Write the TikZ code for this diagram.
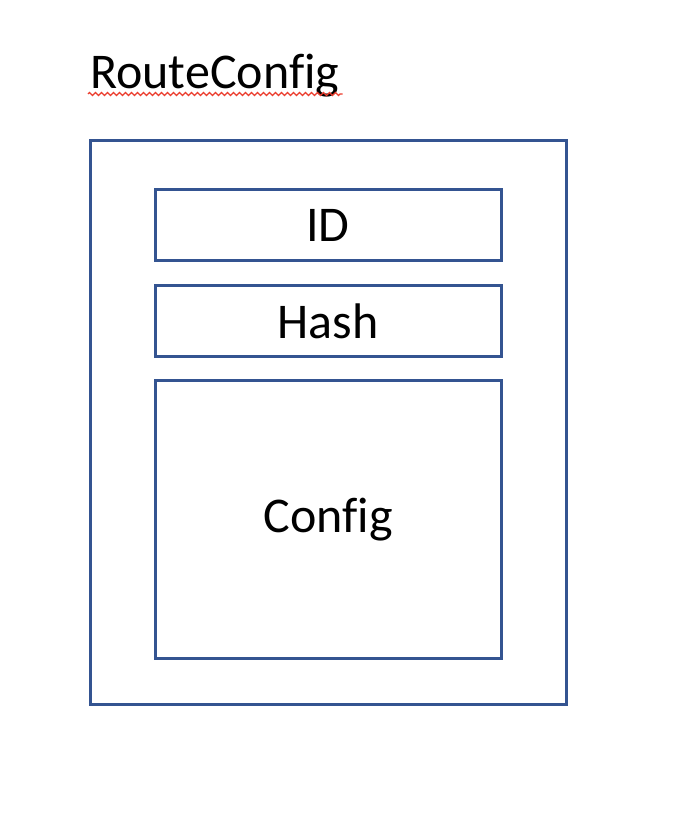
\documentclass[tikz,border=0pt]{standalone}
\usepackage{fontspec}
\setmainfont[Ligatures=NoCommon]{Carlito}
\usepackage{tikz}
\usetikzlibrary{positioning, decorations.pathmorphing}

\definecolor{boxblue}{RGB}{52,84,145}
\definecolor{spellred}{RGB}{235,60,45}

\begin{document}
\begin{tikzpicture}[x=1pt, y=1pt, node distance=25pt,
  field box/.style={rectangle, draw=boxblue, line width=3pt, outer sep=0pt,
    minimum width=346pt, font=\fontsize{50}{56}\selectfont}]

\useasboundingbox (0,0) rectangle (684,834);

% outer frame
\node[rectangle, draw=boxblue, line width=3pt, outer sep=0pt,
  minimum width=476pt, minimum height=564pt] (route) at (328,411) {};

% title
\node[anchor=base west, inner sep=0pt, font=\fontsize{50}{56}\selectfont]
  (title) at (90,745) {RouteConfig};
\draw[spellred, line width=1.2pt, decorate,
  decoration={zigzag, amplitude=1.6pt, segment length=6pt}]
  ([xshift=-2pt, yshift=-5pt]title.base west) -- ([xshift=3pt, yshift=-5pt]title.base east);

% fields
\node[field box, minimum height=71pt] (id) at (328,608.5) {ID};
\node[field box, minimum height=71pt] (hash) [below=of id] {Hash};
\node[field box, minimum height=278pt] (config) [below=24pt of hash] {Config};

\end{tikzpicture}
\end{document}
